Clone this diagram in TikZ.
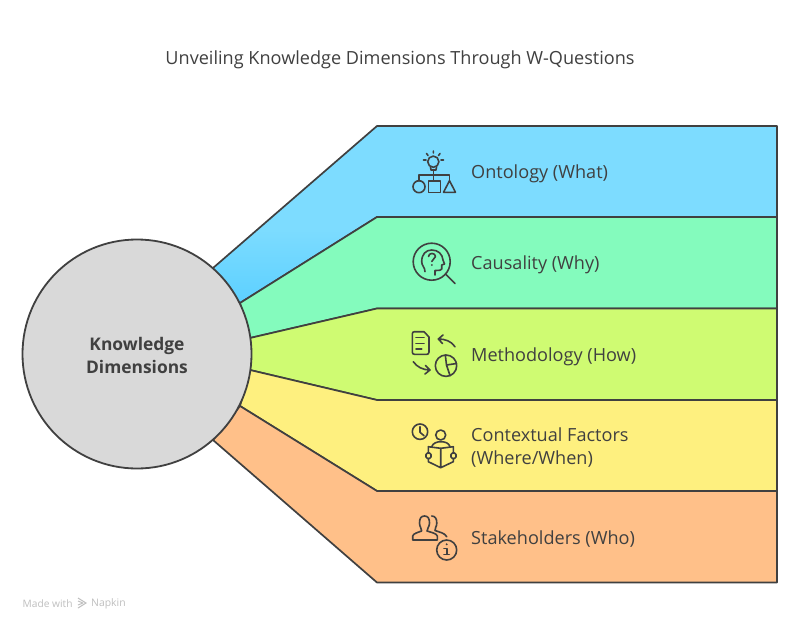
\documentclass[tikz,border=0pt]{standalone}
\usepackage{fontspec}
\setmainfont{Open Sans}
\definecolor{inkc}{HTML}{404040}
\definecolor{whatc}{HTML}{7DDCFF}
\definecolor{whatdeep}{HTML}{5CD0FF}
\definecolor{whyc}{HTML}{84FBBD}
\definecolor{howc}{HTML}{CFFB72}
\definecolor{wherec}{HTML}{FEF07F}
\definecolor{whoc}{HTML}{FFC089}
\definecolor{hubc}{HTML}{D9D9D9}
\tikzset{
  band/.style={draw=inkc,line width=1.7pt,line join=round},
  glyph/.style={draw=inkc,line width=1.6pt,line cap=round,line join=round},
  lbl/.style={text=inkc,font=\fontsize{18.1}{23}\selectfont,anchor=west,align=left,inner sep=0pt},
}
\begin{document}
\begin{tikzpicture}[x=1pt,y=-1pt]
\useasboundingbox[fill=white] (0,0) rectangle (800,629);
\node[text=inkc,font=\fontsize{18.1}{22}\selectfont,inner sep=0pt] (title) at (400,59.5) {Unveiling Knowledge Dimensions Through W-Questions};
% bands
\fill[whatc] (213,268) -- (377,126) -- (777,126) -- (777,217) -- (377,217) -- (240,303) -- cycle;
\begin{scope}
\clip (213,268) -- (377,126) -- (777,126) -- (777,217) -- (377,217) -- (240,303) -- cycle;
\shade[top color=whatc,bottom color=whatdeep] (205,228) rectangle (380,304);
\end{scope}
\draw[band] (213,268) -- (377,126) -- (777,126) -- (777,217) -- (377,217) -- (240,303);
\draw[band,fill=whyc] (240,303) -- (377,217) -- (777,217) -- (777,308.5) -- (377,308.5) -- (250,338) -- cycle;
\draw[band,fill=howc] (250,338) -- (377,308.5) -- (777,308.5) -- (777,400) -- (377,400) -- (250,370) -- cycle;
\draw[band,fill=wherec] (250,370) -- (377,400) -- (777,400) -- (777,491) -- (377,491) -- (240,406) -- cycle;
\draw[band,fill=whoc] (240,406) -- (377,491) -- (777,491) -- (777,582.5) -- (377,582.5) -- (213,440) -- cycle;
\node[circle,draw=inkc,line width=1.8pt,fill=hubc,minimum size=229pt,inner sep=0pt] (hub) at (137,354) {};
\node[text=inkc,align=center,inner sep=0pt,font=\fontsize{17.4}{23}\selectfont\bfseries] (hubtext) at (137,355) {Knowledge\\Dimensions};
% labels
\node[lbl] (ontology) at (471,173.5) {Ontology (What)};
\node[lbl] (causality) at (471,265) {Causality (Why)};
\node[lbl] (method) at (471,356.5) {Methodology (How)};
\node[lbl] (context) at (471,447.5) {Contextual Factors\\(Where/When)};
\node[lbl] (stake) at (471,539.5) {Stakeholders (Who)};
% ontology icon
\draw[glyph] (433.3,161.7) circle (5.6);
\draw[glyph] (430.5,167) -- (431,170) -- (436,170) -- (436.5,167);
\draw[glyph] (423.5,160) -- (426,160) (441,160) -- (443.5,160) (426.5,153.5) -- (428,155.5) (440,153.5) -- (438.5,155.5) (433.3,151) -- (433.3,153);
\draw[glyph] (433.3,170) -- (433.3,181) (419,181) -- (419,175) -- (449.5,175) -- (449.5,180.7);
\draw[glyph] (419,186.7) circle (6);
\draw[glyph] (428.3,181) rectangle (440.3,192.3);
\draw[glyph] (443.5,192.3) -- (449.5,180.7) -- (455.5,192.3) -- cycle;
% causality icon
\draw[glyph] (431.7,261.7) circle (18.5);
\draw[glyph] (445.5,274) -- (455,283.5);
\draw[glyph] (425,271.7) .. controls (425,267) and (421.7,266) .. (421.7,261.7) .. controls (421.7,254) and (426,250) .. (431.7,250) .. controls (438,250) and (442.5,254) .. (443,260) -- (444.5,264) -- (441.7,265) -- (441.7,269) .. controls (441.7,270) and (440,270.5) .. (435,270.5) -- (435,275);
\draw[glyph] (428.5,256.5) .. controls (428.5,252.5) and (435.5,252.5) .. (435.5,256.5) .. controls (435.5,259) and (431.8,259) .. (431.8,261.5);
\fill[inkc] (431.8,265) circle (1);
% methodology icon
\draw[glyph] (414.5,331.7) -- (424,331.7) -- (429,337) -- (429,352) .. controls (429,353.5) and (428,354.3) .. (427,354.3) -- (414.5,354.3) .. controls (413,354.3) and (412.3,353.5) .. (412.3,352) -- (412.3,334) .. controls (412.3,332.5) and (413,331.7) .. (414.5,331.7);
\draw[glyph] (416,337.3) -- (424,337.3) (416,343.3) -- (424,343.3) (416,349) -- (421.7,349);
\draw[glyph] (455,346.7) .. controls (451,341) and (445,339) .. (438.3,339) (443,335) -- (438.3,339) -- (442.5,343.5);
\draw[glyph] (413.3,361.7) .. controls (417,367) and (423,370) .. (430,370) (425.5,365.5) -- (430,370) -- (425,374);
\draw[glyph] (446,365.7) circle (10.7);
\draw[glyph] (445.3,355) -- (446.5,365) -- (456.5,363.5) (446.5,365) -- (450,375.5);
% contextual icon
\draw[glyph] (420,431.7) circle (7.7);
\draw[glyph] (420,426.7) -- (420,432.3) -- (424,435.7);
\draw[glyph] (440.7,435) circle (5);
\draw[glyph] (431.7,446.7) .. controls (433,443) and (437,441.7) .. (440.7,441.7) .. controls (445,441.7) and (449,443) .. (450,446.7);
\draw[glyph] (440.7,448.3) -- (440.7,467.7) (440.7,448.3) -- (428.3,446.7) -- (428.3,453) (428.3,458.5) -- (428.3,461.7) -- (440.7,467.7) -- (453.3,461.7) -- (453.3,458.5) (453.3,453) -- (453.3,446.7) -- (440.7,448.3);
\draw[glyph,rounded corners=1.5pt] (426,453) rectangle (431,458.5);
\draw[glyph,rounded corners=1.5pt] (451,453) rectangle (456,458.5);
% stakeholders icon
\draw[glyph] (412.7,540) -- (412.7,536) .. controls (413,533.5) and (419,532) .. (421.7,531) .. controls (421.7,528) and (419.5,527) .. (419.5,523) .. controls (419.5,518.5) and (421,516) .. (424.5,516) .. controls (428,516) and (429.5,518.5) .. (429.5,523) .. controls (429.5,527) and (427,528) .. (427,531) .. controls (430,532) and (437,533.5) .. (437.3,536) -- (437.3,540) -- cycle;
\draw[glyph] (431.7,516) .. controls (435,516) and (436.8,518.5) .. (436.8,523) .. controls (436.8,527) and (434.5,528) .. (435,530.5) .. controls (439,532) and (445,533) .. (446.7,536.7);
\draw[glyph] (446.7,550) circle (10);
\fill[inkc] (446.7,544.3) circle (1.1);
\draw[glyph] (444,548.3) -- (446.7,548.3) -- (446.7,554.3) (444,554.3) -- (449.3,554.3);
% footer
\node[text=black!25,font=\fontsize{10.2}{12}\selectfont,anchor=west,inner sep=0pt] (made) at (22.5,603.5) {Made with};
\draw[black!25,line width=1pt] (78,598) -- (86,603) -- (78,608) (78,601) -- (83,603) (78,605) -- (83,603);
\node[text=black!25,font=\fontsize{10.4}{12}\selectfont,anchor=west,inner sep=0pt] (napkin) at (91,603.5) {Napkin};
\end{tikzpicture}
\end{document}
